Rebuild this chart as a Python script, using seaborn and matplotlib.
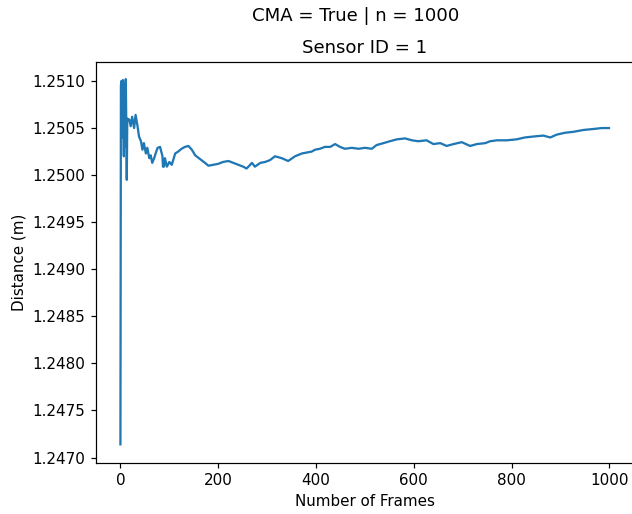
import matplotlib
matplotlib.use("Agg")
import matplotlib.pyplot as plt
import seaborn as sns
import pandas as pd

frames = [0, 1, 2, 3, 4, 5, 6, 7, 8, 9, 10, 11, 12, 13, 14, 18, 21, 24, 28, 31,
          35, 38, 42, 45, 48, 52, 55, 59, 62, 65, 69, 72, 76, 81, 86, 87, 89, 91,
          95, 100, 105, 112, 118, 125, 132, 139, 146, 153, 163, 173, 180, 190,
          200, 210, 221, 231, 241, 251, 258, 269, 275, 286, 296, 306, 316, 330,
          343, 357, 371, 381, 391, 398, 408, 418, 429, 439, 449, 459, 473, 487,
          500, 514, 524, 538, 551, 565, 582, 596, 609, 626, 640, 654, 667, 681,
          698, 715, 729, 746, 756, 770, 790, 810, 827, 844, 865, 879, 892, 909,
          926, 947, 967, 984, 999]
distance = [1.24714, 1.25095, 1.25100, 1.25040, 1.25098, 1.25101, 1.25060,
            1.25020, 1.25085, 1.25030, 1.25095, 1.25102, 1.25050, 1.24995,
            1.25060, 1.25059, 1.25052, 1.25062, 1.25050, 1.25064, 1.25052,
            1.25041, 1.25036, 1.25027, 1.25034, 1.25023, 1.25029, 1.25018,
            1.25021, 1.25013, 1.25018, 1.25023, 1.25029, 1.25030, 1.25020,
            1.25009, 1.25009, 1.25018, 1.25009, 1.25014, 1.25011, 1.25023,
            1.25025, 1.25028, 1.25030, 1.25031, 1.25027, 1.25021, 1.25017,
            1.25013, 1.25010, 1.25011, 1.25012, 1.25014, 1.25015, 1.25013,
            1.25011, 1.25009, 1.25007, 1.25013, 1.25009, 1.25013, 1.25014,
            1.25016, 1.25020, 1.25018, 1.25015, 1.25020, 1.25023, 1.25024,
            1.25025, 1.25027, 1.25028, 1.25030, 1.25030, 1.25033, 1.25030,
            1.25028, 1.25029, 1.25028, 1.25029, 1.25028, 1.25032, 1.25034,
            1.25036, 1.25038, 1.25039, 1.25037, 1.25036, 1.25037, 1.25033,
            1.25034, 1.25031, 1.25033, 1.25035, 1.25031, 1.25033, 1.25034,
            1.25036, 1.25037, 1.25037, 1.25038, 1.25040, 1.25041, 1.25042,
            1.25040, 1.25043, 1.25045, 1.25046, 1.25048, 1.25049, 1.25050,
            1.25050]

suptitle = "CMA = True | n = 1000"
title = "Sensor ID = 1"
xlabel = "Number of Frames"
ylabel = "Distance (m)"

s = 1.09
plt.rcParams.update({
    "font.size": 10 * s,
    "xtick.major.size": 3.5 * s,
    "ytick.major.size": 3.5 * s,
    "xtick.major.pad": 3.5 * s,
    "ytick.major.pad": 3.5 * s,
    "axes.linewidth": 0.8 * s,
    "xtick.major.width": 0.8 * s,
    "ytick.major.width": 0.8 * s,
    "axes.labelpad": 4.0 * s,
})

df = pd.DataFrame({"frame": frames, "distance": distance})

fig = plt.figure(figsize=(6.32, 5.14), dpi=100)
ax = fig.add_axes([96 / 632, 51.3 / 514, 537.4 / 632, 401 / 514])
sns.lineplot(data=df, x="frame", y="distance", ax=ax, color="#1f77b4", linewidth=1.5 * s)
ax.ticklabel_format(axis="y", useOffset=False)
ax.set_yticks([1.2470, 1.2475, 1.2480, 1.2485, 1.2490, 1.2495, 1.2500, 1.2505, 1.2510])
ax.set_xticks([0, 200, 400, 600, 800, 1000])
ax.set_xlim(-49.95, 1048.95)
ax.set_ylim(1.246945, 1.251205)
ax.set_xlabel(xlabel)
ax.set_ylabel(ylabel)
ax.set_title(title, fontsize=12 * s, pad=6 * s)
fig.text(0.562, 1 - 16 / 514, suptitle, ha="center", va="center", fontsize=12 * s)
fig.savefig("out.png", dpi=100)
